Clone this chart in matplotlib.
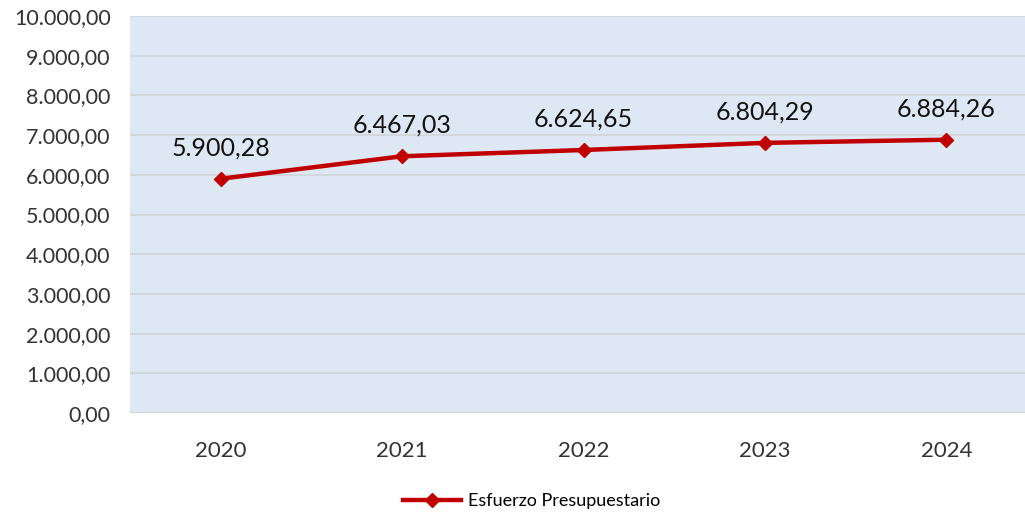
import matplotlib
matplotlib.use("Agg")
import matplotlib.pyplot as plt
from matplotlib.ticker import FuncFormatter

years = ["2020", "2021", "2022", "2023", "2024"]
values = [5900.28, 6467.03, 6624.65, 6804.29, 6884.26]
series_name = "Esfuerzo Presupuestario"

plt.rcParams['font.family'] = ['Lato', 'DejaVu Sans']

def es_fmt(v, pos=None):
    s = f"{v:,.2f}"
    return s.replace(",", "X").replace(".", ",").replace("X", ".")

W, H = 1025, 514
fig = plt.figure(figsize=(W/100, H/100), dpi=100)
ax = fig.add_axes([130/W, 1-413/H, (1037-130)/W, (413-16)/H])
ax.set_facecolor("#DEE8F4")
x = list(range(len(years)))
ax.plot(x, values, color="#C00000", lw=3.2, marker="D", markersize=7, zorder=3,
        label=series_name)
for xi, v in zip(x, values):
    ax.annotate(es_fmt(v), (xi, v), xytext=(0, 14), textcoords="offset points",
                ha="center", va="bottom", fontsize=18, color="#111111")
ax.set_xlim(-0.5, len(years)-0.5)
ax.set_ylim(0, 10000)
ax.set_yticks(range(0, 10001, 1000))
ax.yaxis.set_major_formatter(FuncFormatter(es_fmt))
ax.set_xticks(x)
ax.set_xticklabels(years)
ax.grid(axis="y", color="#D0D4D9", lw=1.2)
ax.set_axisbelow(True)
for s in ax.spines.values():
    s.set_visible(False)
ax.tick_params(axis="y", length=0, labelsize=15.5, colors="#333333", pad=14)
ax.tick_params(axis="x", length=0, labelsize=16, colors="#333333", pad=20)
fig.legend(loc="center", bbox_to_anchor=(532/W, 1-501/H), frameon=False,
           fontsize=13, handlelength=3.2, handletextpad=0.4)
fig.savefig("out.png", dpi=100)
